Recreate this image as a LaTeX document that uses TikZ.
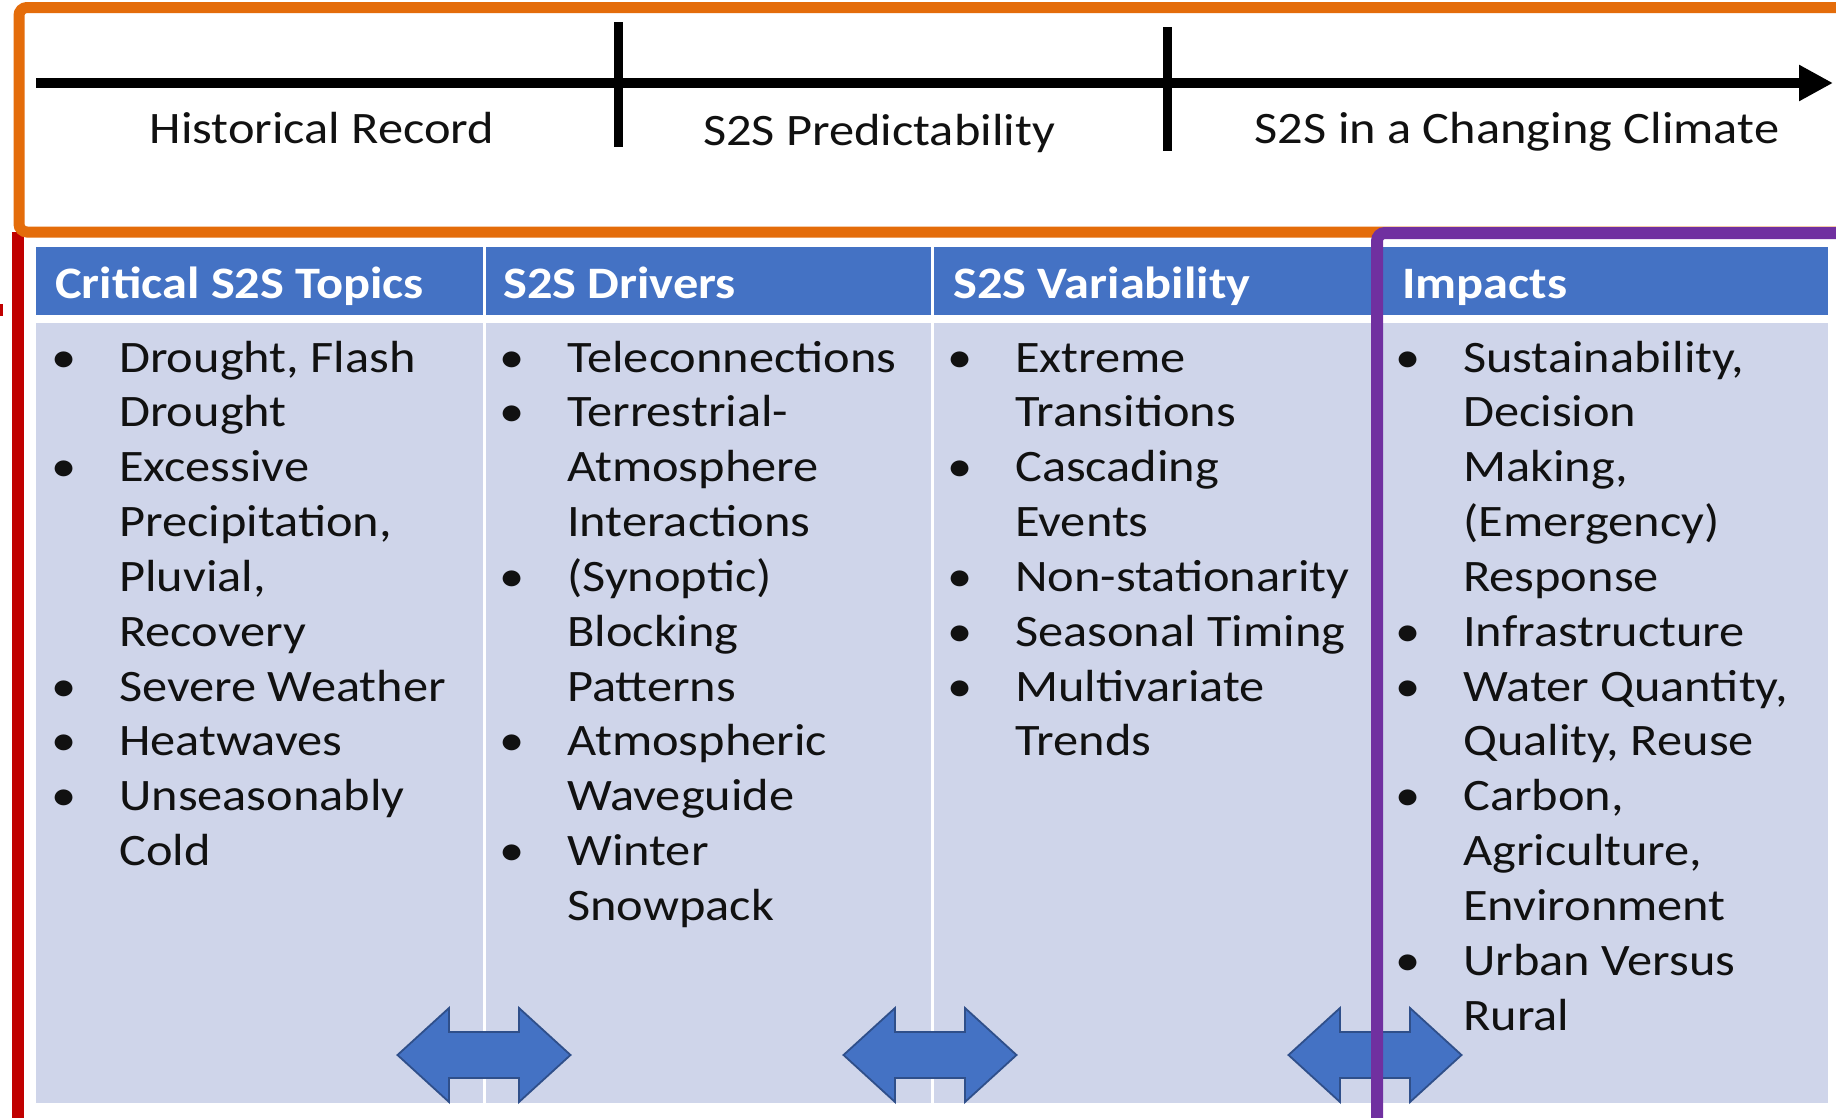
\documentclass[tikz,border=0pt]{standalone}
\usepackage{fontspec}
\setmainfont{Carlito}[FakeStretch=1.12]
\usetikzlibrary{arrows.meta}

\definecolor{hdrblue}{HTML}{4472C4}
\definecolor{cellblue}{HTML}{CFD5EA}
\definecolor{arrowedge}{HTML}{2F4F8A}
\definecolor{frameorange}{HTML}{E46C0A}
\definecolor{framepurple}{HTML}{7030A0}
\definecolor{framered}{HTML}{C00000}
\definecolor{inktext}{HTML}{111111}

% one bullet item: name, column left edge, line number, text (lines split by \\)
\newcommand{\bulletitem}[4]{%
  \node[itemtext] (#1) at ({#2+83},{372+54.84*(#3-1)}) {\parbox[t]{360pt}{\raggedright #4}};
  \node[bulletdot] (#1b) at ({#2+28},{372+54.84*(#3-1)}) {\textbullet};
}

\begin{document}
\begin{tikzpicture}[x=1pt,y=-1pt,
  bigfont/.style={font=\fontsize{45}{54.84}\selectfont},
  itemtext/.style={bigfont,anchor=base west,inner sep=0pt,text=inktext},
  bulletdot/.style={bigfont,anchor=base,inner sep=0pt,text=inktext},
  hdrtext/.style={font=\fontsize{45}{54.84}\selectfont\bfseries,anchor=base west,inner sep=0pt,text=white},
  phase/.style={bigfont,anchor=base,inner sep=0pt,text=inktext},
  timeline/.style={line width=10pt,-{Triangle[length=34pt,width=34pt]}},
  phasetick/.style={line width=9pt},
  swaparrow/.style={fill=hdrblue,draw=arrowedge,line width=1.8pt,line join=miter},
  frameline/.style={line width=11pt,rounded corners=8pt}]

\useasboundingbox (0,0) rectangle (1836,1117);
\fill[white] (0,0) rectangle (1836,1117);

% ---- table ----
\fill[hdrblue] (36,247) rectangle (1828,315);
\fill[cellblue] (36,323) rectangle (1828,1103);
\foreach \sx in {484,932,1380}{
  \draw[white,line width=3pt] (\sx,247) -- (\sx,1103);
}

\node[hdrtext] (h1) at (55,298) {Critical S2S Topics};
\node[hdrtext] (h2) at (503,298) {S2S Drivers};
\node[hdrtext] (h3) at (953,298) {S2S Variability};
\node[hdrtext] (h4) at (1402,298) {Impacts};

% column 1
\bulletitem{a1}{36}{1}{Drought, Flash\\Drought}
\bulletitem{a2}{36}{3}{Excessive\\Precipitation,\\Pluvial,\\Recovery}
\bulletitem{a3}{36}{7}{Severe Weather}
\bulletitem{a4}{36}{8}{Heatwaves}
\bulletitem{a5}{36}{9}{Unseasonably\\Cold}
% column 2
\bulletitem{b1}{484}{1}{Teleconnections}
\bulletitem{b2}{484}{2}{Terrestrial-\\Atmosphere\\Interactions}
\bulletitem{b3}{484}{5}{(Synoptic)\\Blocking\\Patterns}
\bulletitem{b4}{484}{8}{Atmospheric\\Waveguide}
\bulletitem{b5}{484}{10}{Winter\\Snowpack}
% column 3
\bulletitem{c1}{932}{1}{Extreme\\Transitions}
\bulletitem{c2}{932}{3}{Cascading\\Events}
\bulletitem{c3}{932}{5}{Non-stationarity}
\bulletitem{c4}{932}{6}{Seasonal Timing}
\bulletitem{c5}{932}{7}{Multivariate\\Trends}
% column 4
\bulletitem{d1}{1380}{1}{Sustainability,\\Decision\\Making,\\(Emergency)\\Response}
\bulletitem{d2}{1380}{6}{Infrastructure}
\bulletitem{d3}{1380}{7}{Water Quantity,\\Quality, Reuse}
\bulletitem{d4}{1380}{9}{Carbon,\\Agriculture,\\Environment}
\bulletitem{d5}{1380}{12}{Urban Versus\\Rural}

% ---- two-way block arrows on the column borders ----
\foreach \cx in {484,930,1375}{
  \draw[swaparrow] ({\cx-86.5},1055) -- ({\cx-35},1008) -- ({\cx-35},1032)
    -- ({\cx+35},1032) -- ({\cx+35},1008) -- ({\cx+86.5},1055)
    -- ({\cx+35},1102) -- ({\cx+35},1078) -- ({\cx-35},1078)
    -- ({\cx-35},1102) -- cycle;
}

% ---- timeline ----
\coordinate (tlstart) at (36,83);
\coordinate (tlend) at (1833,83);
\draw[timeline] (tlstart) -- (tlend);
\coordinate (t1top) at (618,22);
\coordinate (t1bot) at (618,147);
\coordinate (t2top) at (1167,27);
\coordinate (t2bot) at (1167,151);
\draw[phasetick] (t1top) -- (t1bot);
\draw[phasetick] (t2top) -- (t2bot);
\node[phase] (p1) at (322,143) {Historical Record};
\node[phase] (p2) at (879,145) {S2S Predictability};
\node[phase] (p3) at (1517,143) {S2S in a Changing Climate};

% ---- coloured frames ----
\draw[framered,line width=12pt] (17.5,232) -- (17.5,1130);
\fill[framered] (0,304) rectangle (2.5,316);
\draw[frameline,frameorange] (1860,7.5) -- (19,7.5) -- (19,232) -- (1860,232);
\draw[frameline,framepurple,line width=12pt] (1377,1130) -- (1377,233) -- (1860,233);

\end{tikzpicture}
\end{document}
